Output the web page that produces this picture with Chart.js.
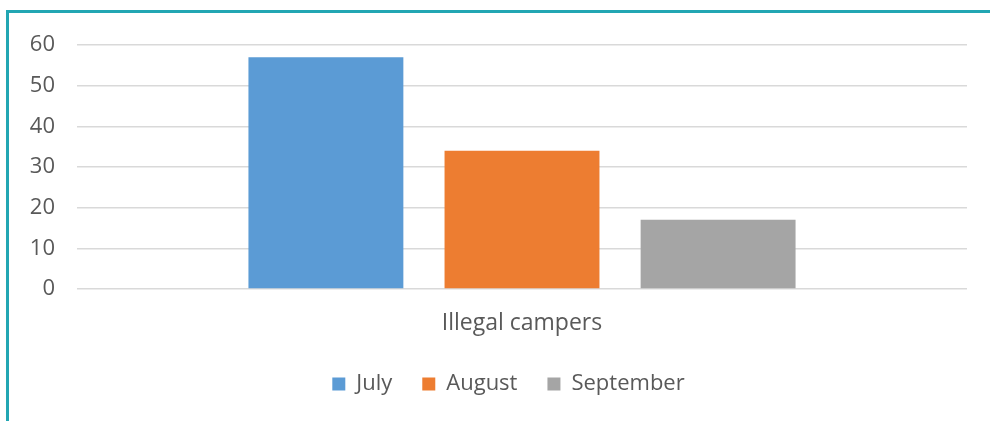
<!DOCTYPE html>
<html>
<head>
<meta charset="utf-8">
<script src="https://cdn.jsdelivr.net/npm/chart.js@4.4.0/dist/chart.umd.min.js"></script>
<style>
  html, body { margin: 0; padding: 0; background: #fff; }
  #frame {
    position: absolute; left: 6px; top: 10px; width: 1000px; height: 500px;
    border-left: 3px solid #22a6b3; border-top: 3px solid #22a6b3;
  }
  #wrap { position: absolute; left: 0; top: 0; width: 990px; height: 421px; }
</style>
</head>
<body>
<div id="frame"></div>
<div id="wrap"><canvas id="campersChart"></canvas></div>
<script>
// values
const categories = ['Illegal campers'];
const months = ['July', 'August', 'September'];
const julyValues = [57];
const augustValues = [34];
const septemberValues = [17];
const monthColors = ['#5b9bd5', '#ed7d31', '#a5a5a5'];
const yTicks = [0, 10, 20, 30, 40, 50, 60];

const textColor = '#595959';
const fontFamily = '"Open Sans", "Noto Sans", sans-serif';

// legend sits a bit right of the canvas centre in the original
const legendShift = {
  id: 'legendShift',
  afterLayout(chart) {
    chart.legend.left += 25;
    chart.legend.right += 25;
  }
};

const ctx = document.getElementById('campersChart').getContext('2d');
new Chart(ctx, {
  type: 'bar',
  data: {
    labels: categories,
    datasets: [
      { label: months[0], data: julyValues, backgroundColor: monthColors[0] },
      { label: months[1], data: augustValues, backgroundColor: monthColors[1] },
      { label: months[2], data: septemberValues, backgroundColor: monthColors[2] }
    ]
  },
  plugins: [legendShift],
  options: {
    responsive: true,
    maintainAspectRatio: false,
    animation: false,
    categoryPercentage: 0.661,
    barPercentage: 0.79,
    layout: { padding: { left: 0, right: 23, top: 45, bottom: 16 } },
    scales: {
      x: {
        grid: { display: false, drawTicks: false },
        border: { display: false },
        ticks: { color: textColor, font: { family: fontFamily, size: 23 }, padding: 21 },
        afterFit: scale => { scale.height = 54; }
      },
      y: {
        min: 0,
        max: 60,
        afterBuildTicks: scale => { scale.ticks = yTicks.map(v => ({ value: v })); },
        grid: { color: '#d9d9d9', lineWidth: 1.5, drawTicks: false },
        border: { display: false },
        ticks: { color: textColor, font: { family: fontFamily, size: 22 }, padding: 22 },
        afterFit: scale => { scale.width = 77; }
      }
    },
    plugins: {
      legend: {
        position: 'bottom',
        labels: {
          color: textColor,
          boxWidth: 13,
          boxHeight: 13,
          padding: 30,
          font: { family: fontFamily, size: 22 }
        }
      },
      tooltip: { enabled: false }
    }
  }
});
</script>
</body>
</html>
